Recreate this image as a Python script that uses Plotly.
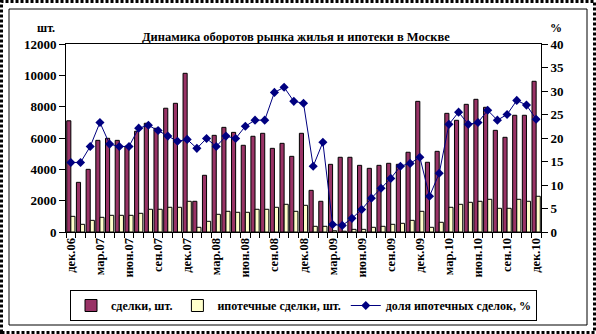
import plotly.graph_objects as go

months = ["янв", "фев", "мар", "апр", "май", "июн", "июл", "авг", "сен", "окт", "ноя", "дек"]
labels = ["дек.06"] + [f"{m}.{y:02d}" for y in range(7, 11) for m in months]

deals = [7100, 3170, 4000, 5850, 5980, 5850, 5470, 6430, 6940, 6620, 7900, 8215,
         10130, 1960, 3620, 6170, 6680, 6360, 5535, 6110, 6300, 5340, 5660, 4830,
         6300, 2660, 1960, 4320, 4770, 4770, 4255, 4065, 4255, 4385, 4320, 5090,
         8340, 4450, 5150, 7575, 7130, 8150, 8470, 7960, 6490, 6045, 7450, 7450,
         9620]
mortgage = [1000, 490, 745, 938, 1066, 1066, 1066, 1193, 1450, 1450, 1577, 1577,
            1960, 300, 683, 1130, 1321, 1258, 1258, 1450, 1450, 1577, 1768, 1321,
            1704, 364, 364, 80, 50, 170, 170, 300, 364, 490, 555, 745,
            1321, 300, 620, 1577, 1768, 1895, 1960, 2087, 1513, 1513, 2087, 1960,
            2280]
share = [14.8, 14.8, 18.2, 23.3, 18.7, 18.2, 18.2, 22.1, 22.7, 21.6, 20.4, 19.3,
         19.7, 17.8, 19.9, 18.2, 20.4, 19.9, 22.5, 23.8, 23.8, 29.7, 30.8, 27.8,
         27.4, 14.0, 19.1, 1.6, 1.4, 2.9, 4.8, 7.2, 9.3, 11.4, 14.0, 14.6,
         15.9, 7.6, 12.5, 22.9, 25.5, 22.9, 23.3, 25.9, 23.8, 25.0, 28.0, 27.0,
         24.0]

idx = list(range(len(labels)))
tick_idx = idx[::3]
tick_txt = labels[::3]

FONT = "Liberation Serif, Times New Roman, serif"
W, H = 596, 334
L, R, T, B = 66, 55, 44, 102
pw, ph = W - L - R, H - T - B


def px(x):
    return (x - L) / pw


def py(y):
    return (H - B - y) / ph


def f(size):
    return dict(family=FONT, size=size, color="black", weight="bold")


fig = go.Figure()
fig.add_trace(go.Bar(x=idx, y=deals, name="сделки, шт.",
                     marker=dict(color="#993366", line=dict(color="black", width=1))))
fig.add_trace(go.Bar(x=idx, y=mortgage, name="ипотечные сделки, шт.",
                     marker=dict(color="#FFFFCC", line=dict(color="black", width=1))))
fig.add_trace(go.Scatter(x=idx, y=share, name="доля ипотечных сделок, %", yaxis="y2",
                         mode="lines+markers",
                         line=dict(color="#000080", width=1),
                         marker=dict(symbol="diamond", size=7, color="#000080")))

fig.update_layout(
    width=W, height=H,
    margin=dict(l=L, r=R, t=T, b=B),
    paper_bgcolor="white", plot_bgcolor="white",
    font=f(12),
    barmode="group", bargap=0.15, bargroupgap=0,
    xaxis=dict(range=[-0.5, 48.5], tickmode="array", tickvals=tick_idx, ticktext=tick_txt,
               tickangle=-90, ticks="", showline=True, linecolor="black", linewidth=1,
               mirror=True, showgrid=False, zeroline=False,
               tickfont=f(12.5),
               minor=dict(tickmode="linear", tick0=0.5, dtick=1, ticks="outside",
                          ticklen=5, tickcolor="black", showgrid=False)),
    yaxis=dict(range=[0, 12000], dtick=2000, tickformat="d", ticks="outside", ticklen=6,
               tickcolor="black", showline=True, linecolor="black", linewidth=1,
               showgrid=False, zeroline=False, tickfont=f(13)),
    yaxis2=dict(range=[0, 40], dtick=5, tickformat="d", overlaying="y", side="right",
                ticks="outside", ticklen=6, tickcolor="black", showline=True,
                linecolor="black", linewidth=1, showgrid=False, zeroline=False,
                tickfont=f(13)),
    legend=dict(orientation="h", x=px(70), y=py(290), xanchor="left", yanchor="top",
                bordercolor="black", borderwidth=1, bgcolor="white",
                font=f(12), itemwidth=30, tracegroupgap=0),
    showlegend=True,
)

fig.add_annotation(text="Динамика оборотов рынка жилья и ипотеки в Москве",
                   xref="paper", yref="paper", x=px(296), y=py(28), showarrow=False,
                   font=f(12.5))
fig.add_annotation(text="шт.", xref="paper", yref="paper", x=px(36), y=py(20),
                   showarrow=False, font=f(12), borderpad=0)
fig.add_annotation(text="%", xref="paper", yref="paper", x=px(563), y=py(20),
                   showarrow=False, font=f(12), borderpad=0)

fig.add_shape(type="rect", xref="paper", yref="paper",
              x0=px(1.5), x1=px(594.5), y0=py(332.5), y1=py(1.5),
              line=dict(color="black", width=3, dash="3px,2px"), layer="above")
fig.add_shape(type="rect", xref="paper", yref="paper",
              x0=px(9), x1=px(587), y0=py(325), y1=py(9),
              line=dict(color="black", width=1), layer="above")

fig.write_html("out.html")
